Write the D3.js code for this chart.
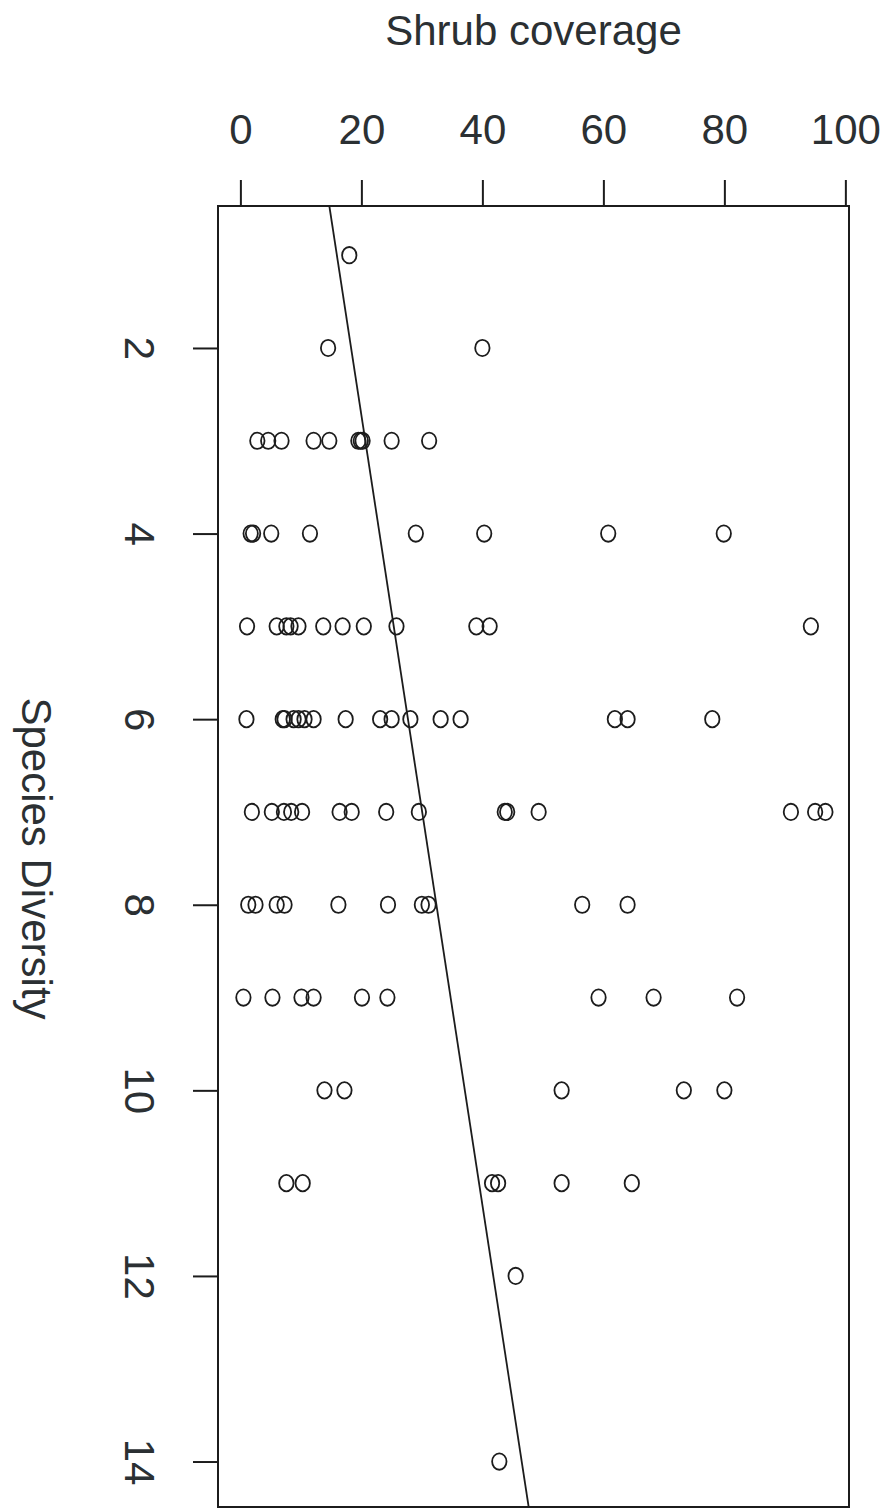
<!DOCTYPE html>
<html>
<head>
<meta charset="utf-8">
<script src="https://cdn.jsdelivr.net/npm/d3@7"></script>
<style>
  body { margin: 0; background: #fff; }
  text { font-family: "Liberation Sans", Arial, sans-serif; fill: #2b3033; }
</style>
</head>
<body>
<script>
// species diversity (drawn downwards) and shrub coverage (drawn across), paired
var diversity = [
  1,
  2, 2,
  3, 3, 3, 3, 3, 3, 3, 3, 3, 3,
  4, 4, 4, 4, 4, 4, 4, 4,
  5, 5, 5, 5, 5, 5, 5, 5, 5, 5, 5, 5,
  6, 6, 6, 6, 6, 6, 6, 6, 6, 6, 6, 6, 6, 6, 6, 6,
  7, 7, 7, 7, 7, 7, 7, 7, 7, 7, 7, 7, 7, 7, 7,
  8, 8, 8, 8, 8, 8, 8, 8, 8, 8,
  9, 9, 9, 9, 9, 9, 9, 9, 9,
  10, 10, 10, 10, 10,
  11, 11, 11, 11, 11, 11,
  12,
  14
];
var coverage = [
  18,
  14.5, 40,
  2.8, 4.6, 6.8, 12.1, 14.7, 19.5, 19.9, 25, 31.2,
  // (two points sit on top of each other near 20)
  20.2,
  1.7, 2.1, 5.1, 11.5, 29, 40.3, 60.8, 79.9,
  1.1, 6, 7.6, 8.3, 9.6, 13.7, 16.9, 20.4, 25.8, 39, 41.2, 94.3,
  1, 7, 7.3, 8.8, 10.6, 12.1, 17.4, 23.1, 25, 28.1, 33.1, 36.4, 61.9, 64, 78, 9.6,
  1.9, 5.2, 7.2, 8.4, 10.2, 16.4, 18.4, 24.1, 29.5, 43.7, 44.1, 49.3, 91, 95, 96.7,
  1.3, 2.5, 6, 7.3, 16.2, 24.4, 30, 31.1, 56.5, 64,
  0.5, 5.3, 10.1, 12.1, 20.1, 24.3, 59.2, 68.3, 82.1,
  13.9, 17.2, 53.1, 73.3, 80,
  7.6, 10.3, 41.6, 42.6, 53.1, 64.7,
  45.5,
  42.8
];
var coverageTicks = [0, 20, 40, 60, 80, 100];
var diversityTicks = [2, 4, 6, 8, 10, 12, 14];

// straight fit line as it appears in the picture: coverage = a + b * diversity
var fitIntercept = 13.6;
var fitSlope = 2.35;

var width = 885, height = 1508;
var box = {left: 218, right: 849, top: 206, bottom: 1507};

var x = d3.scaleLinear().domain([-3.7, 100.6]).range([box.left, box.right]);
var y = d3.scaleLinear().domain([0.47, 14.49]).range([box.top, box.bottom]);

var svg = d3.select("body").append("svg")
  .attr("width", width).attr("height", height);

svg.append("defs").append("clipPath").attr("id", "plotclip")
  .append("rect")
  .attr("x", box.left).attr("y", box.top)
  .attr("width", box.right - box.left).attr("height", box.bottom - box.top);

// top axis: shrub coverage
var xAxis = d3.axisTop(x).tickValues(coverageTicks).tickSize(26).tickPadding(36);
var gx = svg.append("g").attr("transform", "translate(0," + box.top + ")").call(xAxis);
gx.select(".domain").remove();
gx.selectAll("line").attr("stroke", "#1c1c1c").attr("stroke-width", 2);
gx.selectAll("text").attr("font-size", 42).attr("fill", "#2b3033");

// left axis: species diversity, labels turned like the rest of the figure
var yAxis = d3.axisLeft(y).tickValues(diversityTicks).tickSize(25);
var gy = svg.append("g").attr("transform", "translate(" + box.left + ",0)").call(yAxis);
gy.select(".domain").remove();
gy.selectAll("line").attr("stroke", "#1c1c1c").attr("stroke-width", 2);
gy.selectAll("text")
  .attr("font-size", 42).attr("fill", "#2b3033")
  .attr("x", 0).attr("dy", 0)
  .attr("text-anchor", "middle")
  .attr("transform", "translate(-93,0) rotate(90)");

// frame
svg.append("rect")
  .attr("x", box.left).attr("y", box.top)
  .attr("width", box.right - box.left).attr("height", box.bottom - box.top)
  .attr("fill", "none").attr("stroke", "#1c1c1c").attr("stroke-width", 2);

// fit line
var yDom = y.domain();
svg.append("line")
  .attr("clip-path", "url(#plotclip)")
  .attr("x1", x(fitIntercept + fitSlope * yDom[0])).attr("y1", y(yDom[0]))
  .attr("x2", x(fitIntercept + fitSlope * yDom[1])).attr("y2", y(yDom[1]))
  .attr("stroke", "#1c1c1c").attr("stroke-width", 1.8);

// points (the picture is stretched a little, so they come out slightly tall)
svg.append("g").selectAll("ellipse")
  .data(diversity)
  .enter().append("ellipse")
  .attr("cx", function(d, i) { return x(coverage[i]); })
  .attr("cy", function(d) { return y(d); })
  .attr("rx", 7.2)
  .attr("ry", 8.2)
  .attr("fill", "none")
  .attr("stroke", "#1c1c1c")
  .attr("stroke-width", 1.8);

// axis titles
svg.append("text")
  .attr("x", (box.left + box.right) / 2).attr("y", 45)
  .attr("text-anchor", "middle").attr("font-size", 42)
  .text("Shrub coverage");

svg.append("text")
  .attr("text-anchor", "middle").attr("font-size", 42)
  .attr("transform", "translate(22," + ((box.top + box.bottom) / 2 + 2) + ") rotate(90)")
  .text("Species Diversity");
</script>
</body>
</html>
